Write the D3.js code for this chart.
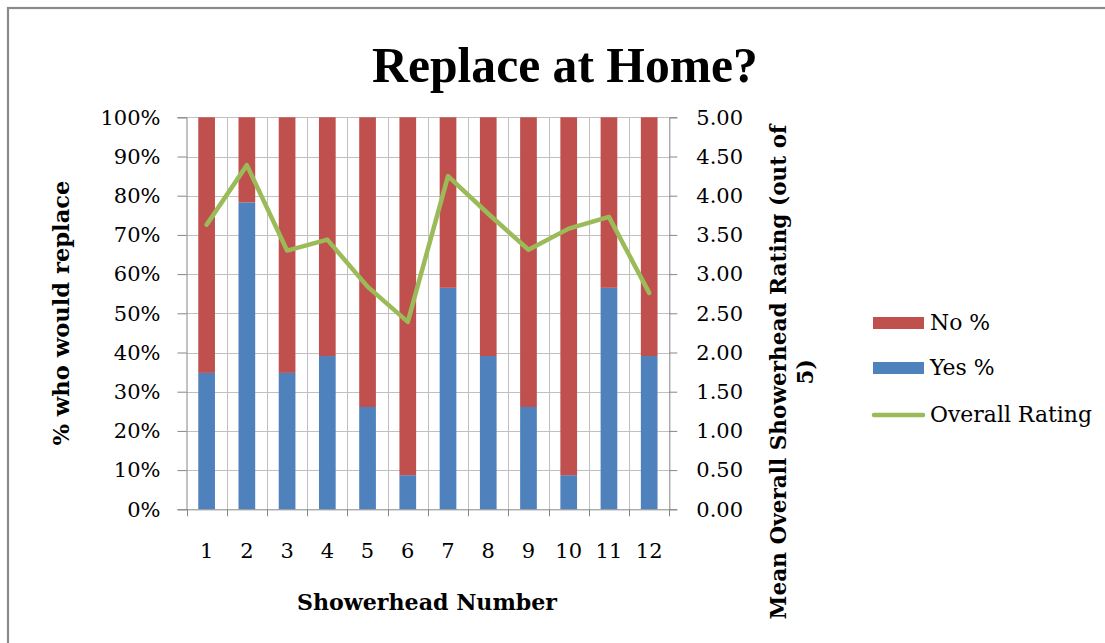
<!DOCTYPE html>
<html>
<head>
<meta charset="utf-8">
<script src="https://cdn.jsdelivr.net/npm/d3@7"></script>
<style>
  html, body { margin: 0; padding: 0; background: #ffffff; }
  svg { display: block; }
</style>
</head>
<body>
<svg id="chart" width="1105" height="643"></svg>
<script>
// ---- data ----
const categories = ["1","2","3","4","5","6","7","8","9","10","11","12"];
const yesPct = [34.8, 78.3, 34.8, 39.1, 26.1, 8.7, 56.5, 39.1, 26.1, 8.7, 56.5, 39.1];
const noPct  = [65.2, 21.7, 65.2, 60.9, 73.9, 91.3, 43.5, 60.9, 73.9, 91.3, 43.5, 60.9];
const overallRating = [3.63, 4.39, 3.30, 3.44, 2.84, 2.39, 4.25, 3.77, 3.31, 3.58, 3.73, 2.76];
const leftTicks = [0, 10, 20, 30, 40, 50, 60, 70, 80, 90, 100];
const rightTicks = [0, 0.5, 1, 1.5, 2, 2.5, 3, 3.5, 4, 4.5, 5];
const seriesNames = ["No %", "Yes %", "Overall Rating"];

// ---- style ----
const C_NO = "#C0504D", C_YES = "#4F81BD", C_LINE = "#9BBB59";
const C_GRID = "#c0c0c0", C_AXIS = "#868686";
const FONT = "'DejaVu Serif', serif";

const svg = d3.select("#chart");

// outer border (only top & left visible in reference)
svg.append("rect").attr("x", 8).attr("y", 8).attr("width", 1120).attr("height", 660)
  .attr("fill", "none").attr("stroke", "#8a8a8a").attr("stroke-width", 2.2);

const L = 186.5, R = 669.3, T = 117.3, B = 509.3;

const x = d3.scaleBand().domain(categories).range([L, R]).paddingInner(0.585).paddingOuter(0.2925);
const step = x.step();
const y = d3.scaleLinear().domain([0, 100]).range([B, T]);
const yR = d3.scaleLinear().domain([0, 5]).range([B, T]);
const boundary = i => L + i * step;

// horizontal gridlines
svg.append("g").selectAll("line").data(leftTicks.slice(1)).join("line")
  .attr("x1", L).attr("x2", R)
  .attr("y1", d => Math.round(y(d)) + 0.5).attr("y2", d => Math.round(y(d)) + 0.5)
  .attr("stroke", C_GRID).attr("stroke-width", 1);

// vertical gridlines at category boundaries
svg.append("g").selectAll("line").data(d3.range(1, categories.length)).join("line")
  .attr("x1", d => Math.round(boundary(d)) + 0.5).attr("x2", d => Math.round(boundary(d)) + 0.5)
  .attr("y1", T).attr("y2", B)
  .attr("stroke", C_GRID).attr("stroke-width", 1);

// stacked bars
const bars = svg.append("g");
bars.selectAll("rect.yes").data(categories).join("rect").attr("class", "yes")
  .attr("x", d => x(d)).attr("width", x.bandwidth())
  .attr("y", (d, i) => y(yesPct[i])).attr("height", (d, i) => y(0) - y(yesPct[i]))
  .attr("fill", C_YES);
bars.selectAll("rect.no").data(categories).join("rect").attr("class", "no")
  .attr("x", d => x(d)).attr("width", x.bandwidth())
  .attr("y", (d, i) => y(yesPct[i] + noPct[i])).attr("height", (d, i) => y(yesPct[i]) - y(yesPct[i] + noPct[i]))
  .attr("fill", C_NO);

// axes
const leftAxis = d3.axisLeft(y).tickValues(leftTicks).tickSize(9).tickPadding(17).tickFormat(d => d + "%");
const gL = svg.append("g").attr("transform", `translate(${L},0)`).call(leftAxis);
const rightAxis = d3.axisRight(yR).tickValues(rightTicks).tickSize(8).tickPadding(19).tickFormat(d3.format(".2f"));
const gR = svg.append("g").attr("transform", `translate(${R},0)`).call(rightAxis);
const bottomAxis = d3.axisBottom(x).tickSize(0).tickPadding(34);
const gB = svg.append("g").attr("transform", `translate(0,${B})`).call(bottomAxis);

[gL, gR, gB].forEach(g => {
  g.select(".domain").attr("stroke", C_AXIS);
  g.selectAll(".tick line").attr("stroke", C_AXIS);
  g.selectAll(".tick text").attr("fill", "#000").style("font-family", FONT).style("font-size", "21px");
});
gB.select(".domain").attr("d", `M${L},0.5H${R}`);
// x-axis tick marks at category boundaries
gB.append("g").selectAll("line").data(d3.range(0, categories.length + 1)).join("line")
  .attr("x1", d => Math.round(boundary(d)) + 0.5).attr("x2", d => Math.round(boundary(d)) + 0.5)
  .attr("y1", 0).attr("y2", 7).attr("stroke", C_AXIS);

// line series
const line = d3.line().x((d, i) => x(categories[i]) + x.bandwidth() / 2).y(d => yR(d));
svg.append("path").datum(overallRating).attr("d", line)
  .attr("fill", "none").attr("stroke", C_LINE).attr("stroke-width", 4.5)
  .attr("stroke-linejoin", "round").attr("stroke-linecap", "round");

// helper to fit text width
function fit(sel, target) {
  const node = sel.node();
  const fs = parseFloat(sel.style("font-size"));
  const w = node.getComputedTextLength();
  sel.style("font-size", (fs * target / w).toFixed(2) + "px");
  return sel;
}

// title
const title = svg.append("text").attr("x", 565).attr("y", 81.5).attr("text-anchor", "middle")
  .style("font-family", "'Liberation Serif', serif").style("font-weight", "bold").style("font-size", "50px")
  .text("Replace at Home?");
fit(title, 386);

// axis titles
const yTitle = svg.append("text").attr("transform", "translate(69,313) rotate(-90)").attr("text-anchor", "middle")
  .style("font-family", FONT).style("font-weight", "bold").style("font-size", "20px")
  .text("% who would replace");
fit(yTitle, 265);

const xTitle = svg.append("text").attr("x", 427).attr("y", 610).attr("text-anchor", "middle")
  .style("font-family", FONT).style("font-weight", "bold").style("font-size", "20px")
  .text("Showerhead Number");
fit(xTitle, 260);

const rTitle = svg.append("text").attr("transform", "translate(786,372) rotate(-90)").attr("text-anchor", "middle")
  .style("font-family", FONT).style("font-weight", "bold").style("font-size", "20px");
rTitle.append("tspan").attr("x", 0).attr("dy", 0).text("Mean Overall Showerhead Rating (out of");
fit(rTitle, 495);
rTitle.append("tspan").attr("x", 0).attr("dy", "1.25em").text("5)");

// legend
const legend = svg.append("g");
const legendY = [323, 368, 415];
const legendColors = [C_NO, C_YES, C_LINE];
seriesNames.forEach((name, i) => {
  if (i < 2) {
    legend.append("rect").attr("x", 873).attr("y", legendY[i] - 6).attr("width", 51).attr("height", 12)
      .attr("fill", legendColors[i]);
  } else {
    legend.append("line").attr("x1", 874).attr("x2", 923).attr("y1", legendY[i]).attr("y2", legendY[i])
      .attr("stroke", legendColors[i]).attr("stroke-width", 4.5).attr("stroke-linecap", "round");
  }
});
const lt = seriesNames.map((name, i) => legend.append("text").attr("x", 930).attr("y", legendY[i] + 7)
  .style("font-family", FONT).style("font-size", "20px").attr("fill", "#000").text(name));
fit(lt[2], 162);
const lfs = lt[2].style("font-size");
lt.forEach(t => t.style("font-size", lfs));
</script>
</body>
</html>
